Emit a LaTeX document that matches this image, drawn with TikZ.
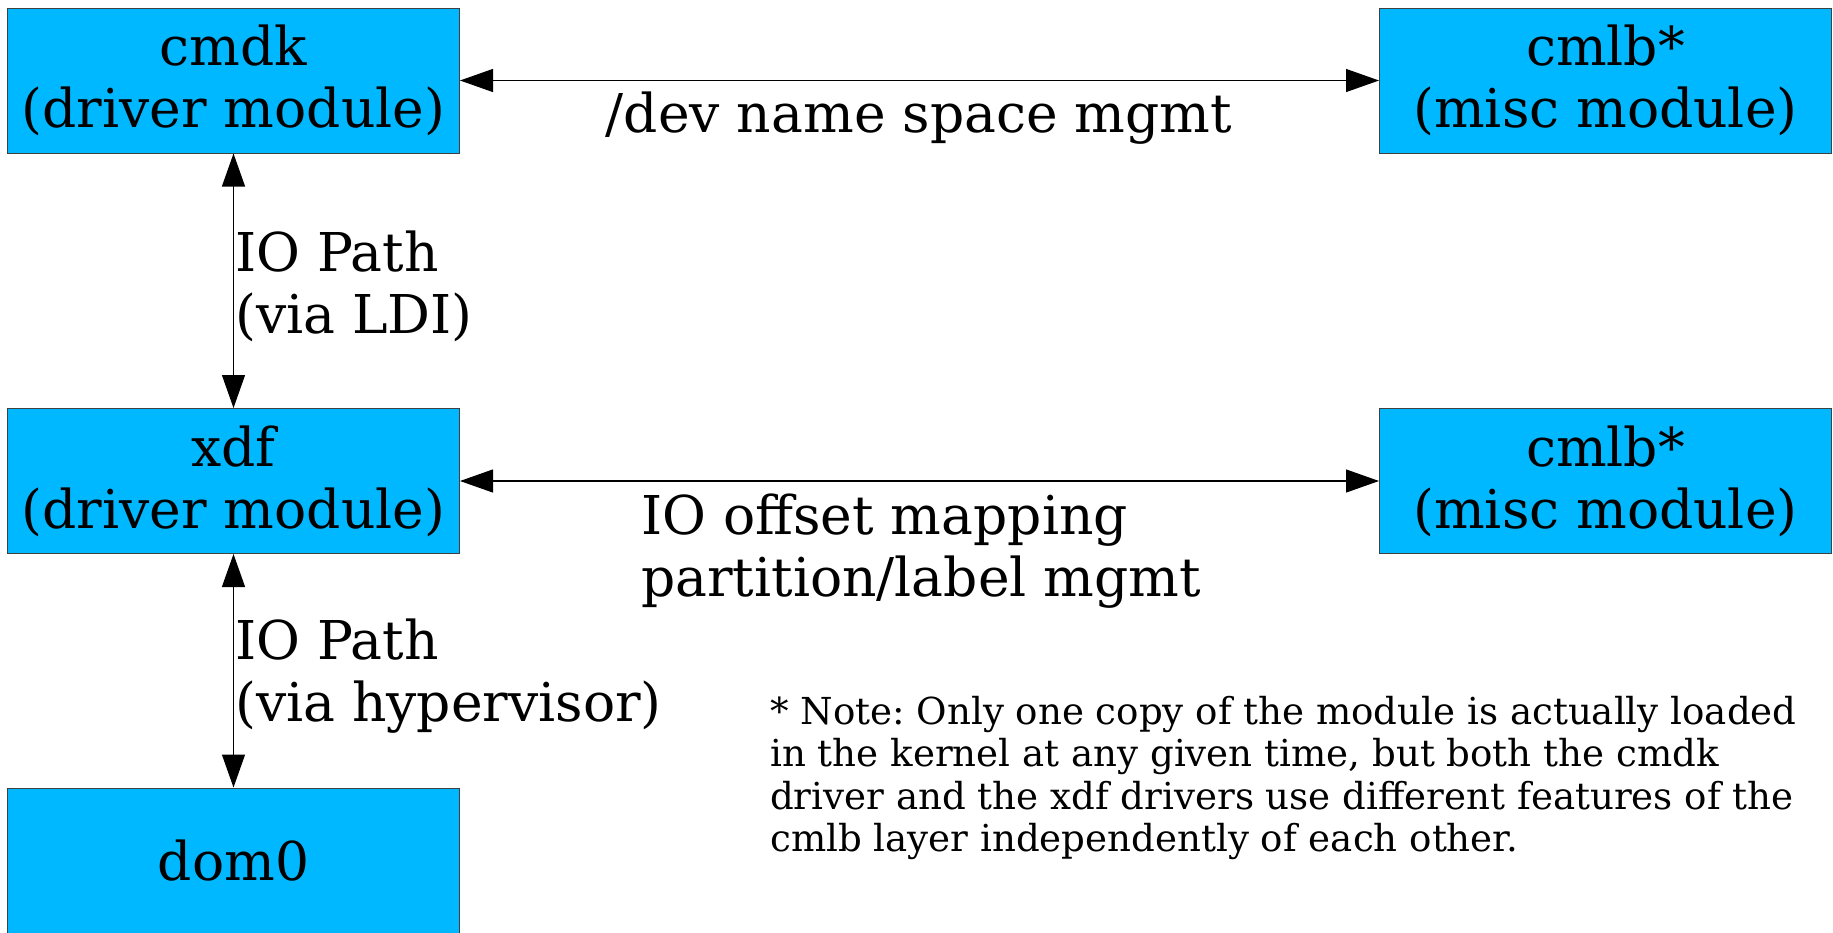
\documentclass[tikz,border=0pt]{standalone}
\usepackage{fontspec}
\setmainfont{DejaVu Serif}
\usetikzlibrary{arrows.meta}
\definecolor{boxblue}{RGB}{0,184,255}
\frenchspacing
\begin{document}
\begin{tikzpicture}[x=1bp,y=-1bp,
  box/.style={draw=black!75, line width=1bp, fill=boxblue, minimum width=452bp, minimum height=145bp, inner sep=0pt, align=center, font=\fontsize{53.7}{62}\selectfont},
  lbl/.style={inner sep=0pt, align=left, font=\fontsize{53.7}{62}\selectfont},
  note/.style={inner sep=0pt, align=left, font=\fontsize{37.3}{42.5}\selectfont},
  conn/.style={line width=1.2bp, {Triangle[length=33bp,width=23bp]}-{Triangle[length=33bp,width=23bp]}}]
\useasboundingbox (0,0) rectangle (1833,932);
\node[box] (cmdk) at (233.5,80.5) {cmdk\\(driver module)};
\node[box] (cmlbA) at (1605.5,80.5) {cmlb*\\(misc module)};
\node[box] (xdf) at (233.5,481) {xdf\\(driver module)};
\node[box] (cmlbB) at (1605.5,481) {cmlb*\\(misc module)};
\node[box] (dom0) at (233.5,860.5) {dom0};
\draw[conn] (cmdk) -- (cmlbA);
\draw[conn] (xdf) -- (cmlbB);
\draw[conn] (cmdk) -- (xdf);
\draw[conn] (xdf) -- (dom0);
\node[lbl, anchor=base] (devlbl) at (919,132) {/dev name space mgmt};
\node[lbl, anchor=base west] (iop1) at (235,333) {IO Path\\(via LDI)};
\node[lbl, anchor=base west] (offs) at (641,596) {IO offset mapping\\partition/label mgmt};
\node[lbl, anchor=base west] (iop2) at (235,721) {IO Path\\(via hypervisor)};
\node[note, anchor=base west] (notetxt) at (770,851.5) {* Note: Only one copy of the module is actually loaded\\in the kernel at any given time, but both the cmdk\\driver and the xdf drivers use different features of the\\cmlb layer independently of each other.};
\end{tikzpicture}
\end{document}
